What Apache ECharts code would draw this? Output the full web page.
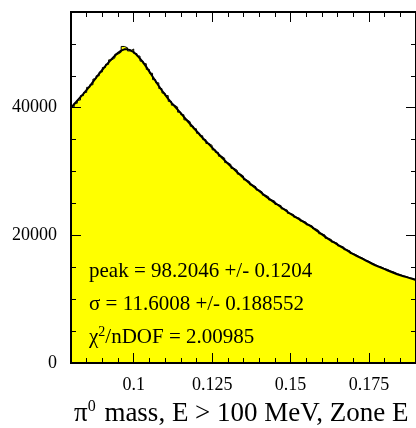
<!DOCTYPE html>
<html><head><meta charset="utf-8">
<script src="https://cdn.jsdelivr.net/npm/echarts@6/dist/echarts.min.js"></script>
<style>html,body{margin:0;padding:0;background:#fff}#c{width:416px;height:428px}</style>
</head><body><div id="c"></div>
<script>
// Histogram: 1 MeV bins from 0.080 to 0.190 GeV
const binStart = 0.080;
const binWidth = 0.001;
const counts = [
40100,40700,41200,41900,42400,43200,43600,44500,45000,45600,
46300,46800,47500,47800,48400,48700,49600,49400,48900,49200,
48500,48100,47300,46900,46000,45400,44400,43900,43000,42300,
41900,41000,40400,40100,39300,38900,38100,37800,37100,36700,
36000,35600,35000,34400,34100,33400,33000,32400,32100,31400,
31100,30500,30200,29600,29300,28700,28400,27900,27600,27100,
26800,26300,26050,25550,25350,24850,24650,24150,23950,23450,
23250,22850,22650,22250,22050,21650,21450,21050,20750,20250,
20050,19550,19350,18950,18750,18350,18150,17750,17550,17150,
16950,16650,16450,16150,15950,15650,15450,15200,15050,14800,
14650,14400,14250,14000,13850,13650,13550,13350,13250,13050
];
// Fit curve evaluated at 0.080, 0.081, ..., 0.190
const fitValues = [
40000,40550,41100,41650,42200,42800,43400,44050,44700,45350,
45950,46550,47100,47650,48150,48600,48950,49150,49150,49000,
48700,48250,47700,47100,46400,45650,44900,44150,43400,42700,
42050,41400,40800,40250,39700,39150,38550,38000,37450,36900,
36350,35800,35250,34750,34250,33750,33250,32750,32250,31750,
31250,30800,30350,29900,29450,29000,28550,28150,27750,27350,
26950,26550,26150,25800,25450,25100,24750,24400,24050,23700,
23350,23050,22750,22450,22150,21850,21550,21250,20850,20500,
20150,19800,19450,19150,18850,18550,18250,17950,17650,17350,
17050,16800,16550,16300,16050,15800,15550,15300,15100,14900,
14700,14500,14300,14100,13900,13750,13600,13450,13300,13150,
13000
];
const xMajorTicks = [0.1, 0.125, 0.15, 0.175];
const yMajorTicks = [0, 20000, 40000];
const xRange = [0.08, 0.19];
const yRange = [0, 55000];
const statLines = ['peak = 98.2046 +/- 0.1204', 'σ = 11.6008 +/- 0.188552', 'χ²/nDOF = 2.00985'];

const FONT = '"Liberation Serif", "DejaVu Serif", serif';
const histData = counts.map((v, i) => [+(binStart + i * binWidth).toFixed(3), v]);
histData.push([+(binStart + counts.length * binWidth).toFixed(3), counts[counts.length - 1]]);
const fitData = fitValues.map((v, i) => [+(binStart + i * binWidth).toFixed(3), v]);

function xAx(pos, major) {
  const a = {
    type: 'value', position: pos, min: xRange[0], max: xRange[1], z: 10,
    axisLine: { show: true, onZero: false, lineStyle: { color: '#000', width: 2 } },
    splitLine: { show: false },
    axisTick: { show: true, inside: true, length: major ? 10 : 5, lineStyle: { color: '#000', width: 1 } },
    axisLabel: { show: false }
  };
  if (major) {
    a.axisTick.customValues = xMajorTicks;
    if (pos === 'bottom') {
      a.axisLabel = { show: true, customValues: xMajorTicks, formatter: v => String(v),
        fontFamily: FONT, fontSize: 18, color: '#000', margin: 13 };
    }
  } else {
    a.interval = 0.005;
  }
  return a;
}
function yAx(pos, major) {
  const a = {
    type: 'value', position: pos, min: yRange[0], max: yRange[1], z: 10,
    axisLine: { show: true, onZero: false, lineStyle: { color: '#000', width: 2 } },
    splitLine: { show: false },
    axisTick: { show: true, inside: true, length: major ? 10 : 5, lineStyle: { color: '#000', width: 1 } },
    axisLabel: { show: false }
  };
  if (major) {
    a.axisTick.customValues = yMajorTicks;
    if (pos === 'left') {
      a.axisLabel = { show: true, customValues: yMajorTicks, formatter: v => String(v),
        fontFamily: FONT, fontSize: 18, color: '#000', margin: 14 };
    }
  } else {
    a.interval = 5000;
  }
  return a;
}

const chart = echarts.init(document.getElementById('c'), null, { renderer: 'canvas' });
chart.setOption({
  animation: false,
  backgroundColor: '#fff',
  grid: { left: 71, top: 12, width: 346, height: 351, containLabel: false },
  xAxis: [xAx('bottom', true), xAx('bottom', false), xAx('top', true), xAx('top', false)],
  yAxis: [yAx('left', true), yAx('left', false), yAx('right', true), yAx('right', false)],
  series: [
    { type: 'line', data: histData, step: 'end', symbol: 'none', xAxisIndex: 0, yAxisIndex: 0,
      lineStyle: { color: '#000', width: 1 }, areaStyle: { color: '#ffff00', opacity: 1, origin: 'start' }, z: 2 },
    { type: 'line', data: fitData, symbol: 'none', xAxisIndex: 0, yAxisIndex: 0,
      lineStyle: { color: '#000', width: 2 }, z: 3 }
  ],
  graphic: [
    { type: 'text', left: 89, top: 261, z: 20, style: { text: statLines[0], font: '21px ' + FONT, fill: '#000' } },
    { type: 'text', left: 89, top: 294, z: 20, style: { text: statLines[1], font: '21px ' + FONT, fill: '#000' } },
    { type: 'text', left: 89, top: 325, z: 20, style: {
        text: '{a|χ}{s|2}{a|/nDOF = 2.00985}',
        rich: { a: { fontFamily: FONT, fontSize: 21, fill: '#000', verticalAlign: 'bottom' },
                s: { fontFamily: FONT, fontSize: 14, fill: '#000', verticalAlign: 'top', padding: [0, 0, 9, 0] } } } },
    { type: 'text', left: 74, top: 399, z: 20, style: {
        text: '{a|π}{s|0}{a| mass, E > 100 MeV, Zone E}',
        rich: { a: { fontFamily: FONT, fontSize: 27, fill: '#000' },
                s: { fontFamily: FONT, fontSize: 16, fill: '#000', padding: [0, 2, 14, 0] } } } }
  ]
});
</script></body></html>
